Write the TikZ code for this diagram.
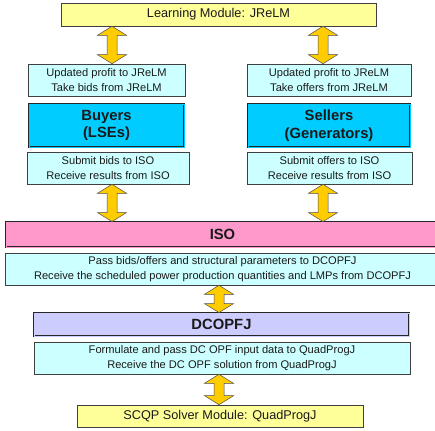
\documentclass[tikz,border=0pt]{standalone}
\usepackage{fontspec}
\setmainfont{Liberation Sans}
\usetikzlibrary{shadows,calc}
\definecolor{ylw}{HTML}{FFFF99}
\definecolor{cyn}{HTML}{CCFFFF}
\definecolor{sky}{HTML}{00CCFF}
\definecolor{pnk}{HTML}{FF99CC}
\definecolor{lav}{HTML}{CCCCFF}
\definecolor{gld}{HTML}{FFCC00}
\definecolor{txt}{HTML}{1A1A1A}
\tikzset{
  shad/.style={drop shadow={shadow xshift=1.4pt,shadow yshift=-1.4pt,fill=black!50,opacity=1}},
  plainbox/.style={shad,draw=black!75,line width=0.6pt,inner sep=0pt,align=center,text=txt},
  smallbox/.style={plainbox,fill=cyn,font=\fontsize{11.1}{14.6}\selectfont},
  titlebox/.style={plainbox,fill=ylw,font=\fontsize{12.7}{15}\selectfont},
  boldbox/.style={shad,draw=black!85,line width=0.8pt,double distance=0.9pt,inner sep=0pt,align=center,text=txt,font=\fontsize{14.8}{17.6}\selectfont\bfseries},
  goldarrow/.style={draw=black!70,fill=gld,line width=0.5pt,line join=miter}
}
\newcommand\vdarrow[3]{%
  \draw[goldarrow] let \p1=(#1.south), \p2=(#2.north) in
   (#3pt,\y1) -- (#3pt+14.5pt,\y1-9pt) -- (#3pt+5pt,\y1-9pt) -- (#3pt+5pt,\y2+9pt)
   -- (#3pt+14.5pt,\y2+9pt) -- (#3pt,\y2) -- (#3pt-14.5pt,\y2+9pt) -- (#3pt-5pt,\y2+9pt)
   -- (#3pt-5pt,\y1-9pt) -- (#3pt-14.5pt,\y1-9pt) -- cycle;}
\begin{document}
\begin{tikzpicture}[x=1pt,y=1pt]
\useasboundingbox[fill=white] (0,0) rectangle (435,430);
\node[titlebox,minimum width=315pt,minimum height=23pt] (jrelm) at (218.5,415.5) {Learning Module: JReLM};
\node[smallbox,minimum width=157pt,minimum height=32pt] (bup) at (106.5,350) {Updated profit to JReLM\\Take bids from JReLM};
\node[smallbox,minimum width=164pt,minimum height=32pt] (sup) at (329,350) {Updated profit to JReLM\\Take offers from JReLM};
\node[boldbox,double=sky,fill=sky,minimum width=155pt,minimum height=43pt] (buyers) at (106.5,304.5) {Buyers\\(LSEs)};
\node[boldbox,double=sky,fill=sky,minimum width=162pt,minimum height=43pt] (sellers) at (329,304.5) {Sellers\\(Generators)};
\node[smallbox,minimum width=162pt,minimum height=32pt] (bdown) at (108,262) {Submit bids to ISO\\Receive results from ISO};
\node[smallbox,minimum width=165pt,minimum height=32pt] (sdown) at (329.5,262) {Submit offers to ISO\\Receive results from ISO};
\node[boldbox,double=pnk,fill=pnk,minimum width=433pt,minimum height=25pt] (iso) at (222.5,195.5) {ISO};
\node[smallbox,minimum width=435pt,minimum height=32pt] (pass) at (222.5,161) {Pass bids/offers and structural parameters to DCOPFJ\\Receive the scheduled power production quantities and LMPs from DCOPFJ};
\node[boldbox,double=lav,fill=lav,minimum width=375pt,minimum height=23pt] (dcopf) at (221.5,105.5) {DCOPFJ};
\node[smallbox,minimum width=376pt,minimum height=32pt] (form) at (222,72) {Formulate and pass DC OPF input data to QuadProgJ\\Receive the DC OPF solution from QuadProgJ};
\node[titlebox,minimum width=286pt,minimum height=22pt] (qp) at (220,14) {SCQP Solver Module: QuadProgJ};
\vdarrow{jrelm}{bup}{112}
\vdarrow{jrelm}{sup}{323}
\vdarrow{bdown}{iso}{112}
\vdarrow{sdown}{iso}{323}
\vdarrow{pass}{dcopf}{219}
\vdarrow{form}{qp}{219}
\end{tikzpicture}
\end{document}
